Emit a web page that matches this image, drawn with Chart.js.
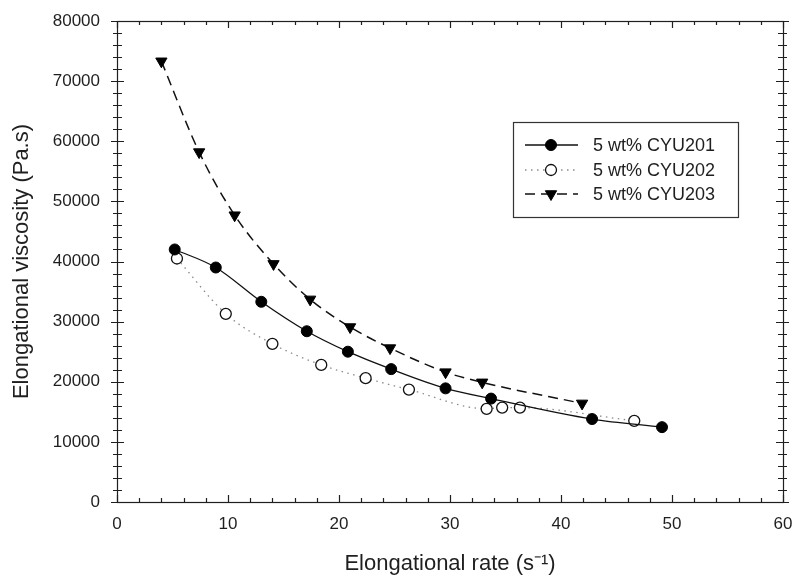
<!DOCTYPE html>
<html>
<head>
<meta charset="utf-8">
<script src="https://cdn.jsdelivr.net/npm/chart.js@4.4.1/dist/chart.umd.min.js"></script>
<style>
  html, body { margin: 0; padding: 0; background: #fff; }
  #wrap { width: 798px; height: 582px; }
</style>
</head>
<body>
<div id="wrap"><canvas id="myChart" width="798" height="582"></canvas></div>
<script>
// values
const rate201 = [5.2, 8.9, 13.0, 17.1, 20.8, 24.7, 29.6, 33.7, 42.8, 49.1]
const visc201 = [42000, 39000, 33300, 28400, 25000, 22100, 18900, 17200, 13800, 12450]
const rate202 = [5.4, 9.8, 14.0, 18.4, 22.4, 26.3, 33.3, 34.7, 36.3, 46.6]
const visc202 = [40500, 31300, 26300, 22800, 20600, 18700, 15500, 15700, 15700, 13500]
const rate203 = [4.0, 7.4, 10.6, 14.1, 17.4, 21.0, 24.6, 29.6, 32.9, 41.9]
const visc203 = [73300, 58200, 47700, 39600, 33700, 29100, 25600, 21600, 19900, 16400]
const seriesNames = ['5 wt% CYU201', '5 wt% CYU202', '5 wt% CYU203']
const xTicks = [0, 10, 20, 30, 40, 50, 60]
const yTicks = [0, 10000, 20000, 30000, 40000, 50000, 60000, 70000, 80000]

const toPoints = (xs, ys) => xs.map((x, i) => ({ x: x, y: ys[i] }))
const FONT = '"Liberation Sans", Arial, sans-serif'
const INK = '#1f1f1f'

// box round the plot plus the small tick marks on all four sides
const frame = {
  id: 'frame',
  afterDraw(chart) {
    const ctx = chart.ctx
    const a = chart.chartArea
    const xs = chart.scales.x
    const ys = chart.scales.y
    ctx.save()
    ctx.strokeStyle = INK
    ctx.lineWidth = 1.2
    ctx.strokeRect(a.left + 0.5, a.top + 0.5, a.right - a.left, a.bottom - a.top)
    ctx.beginPath()
    for (let v = 0; v <= 60; v += 2) {
      const px = Math.round(xs.getPixelForValue(v)) + 0.5
      const len = v % 10 === 0 ? 7 : 4
      ctx.moveTo(px, a.bottom); ctx.lineTo(px, a.bottom - len)
      ctx.moveTo(px, a.top); ctx.lineTo(px, a.top + len)
    }
    for (let v = 0; v <= 80000; v += 2000) {
      const py = Math.round(ys.getPixelForValue(v)) + 0.5
      const out = v % 10000 === 0 ? 6 : 4
      const inn = v % 10000 === 0 ? 7 : 5
      ctx.moveTo(a.left - out, py); ctx.lineTo(a.left + inn, py)
      ctx.moveTo(a.right - inn, py); ctx.lineTo(a.right + out, py)
    }
    ctx.stroke()
    ctx.restore()
  }
}

// legend box inside the plot, line sample with marker like the original
const boxLegend = {
  id: 'boxLegend',
  afterDraw(chart) {
    const ctx = chart.ctx
    const bx = 513, by = 122, bw = 225, bh = 95
    ctx.save()
    ctx.fillStyle = '#fff'
    ctx.fillRect(bx, by, bw, bh)
    ctx.strokeStyle = '#333'
    ctx.lineWidth = 1.2
    ctx.strokeRect(bx + 0.5, by + 0.5, bw, bh)
    const rows = [145, 170, 194]
    chart.data.datasets.forEach((ds, i) => {
      const y = rows[i]
      ctx.save()
      ctx.strokeStyle = ds.borderColor
      ctx.lineWidth = ds.borderWidth
      ctx.setLineDash(ds.borderDash || [])
      ctx.beginPath()
      ctx.moveTo(525, y); ctx.lineTo(578, y)
      ctx.stroke()
      ctx.setLineDash([])
      ctx.fillStyle = ds.pointBackgroundColor
      ctx.strokeStyle = ds.pointBorderColor
      ctx.lineWidth = ds.pointBorderWidth
      Chart.helpers.drawPoint(ctx, {
        pointStyle: ds.pointStyle, radius: ds.pointRadius,
        rotation: ds.pointRotation || 0, borderWidth: ds.pointBorderWidth
      }, 551, y)
      ctx.restore()
      ctx.fillStyle = INK
      ctx.font = '18px ' + FONT
      ctx.textBaseline = 'middle'
      ctx.fillText(seriesNames[i], 593, y + 1)
    })
    ctx.restore()
  }
}

window.onload = () => {
  const ctx = document.getElementById('myChart')
  new Chart(ctx, {
    type: 'scatter',
    data: {
      datasets: [
        {
          label: seriesNames[0],
          data: toPoints(rate201, visc201),
          showLine: true,
          borderColor: '#111',
          borderWidth: 1.3,
          cubicInterpolationMode: 'monotone',
          pointStyle: 'circle',
          pointRadius: 5.5,
          pointBackgroundColor: '#000',
          pointBorderColor: '#000',
          pointBorderWidth: 1
        },
        {
          label: seriesNames[1],
          data: toPoints(rate202, visc202),
          showLine: true,
          borderColor: '#8a8a8a',
          borderWidth: 1.3,
          borderDash: [1.5, 4.5],
          cubicInterpolationMode: 'monotone',
          pointStyle: 'circle',
          pointRadius: 5.5,
          pointBackgroundColor: '#fff',
          pointBorderColor: '#111',
          pointBorderWidth: 1.3
        },
        {
          label: seriesNames[2],
          data: toPoints(rate203, visc203),
          showLine: true,
          borderColor: '#111',
          borderWidth: 1.5,
          borderDash: [10, 6],
          cubicInterpolationMode: 'monotone',
          pointStyle: 'triangle',
          pointRotation: 180,
          pointRadius: 6.5,
          pointBackgroundColor: '#000',
          pointBorderColor: '#000',
          pointBorderWidth: 1
        }
      ]
    },
    options: {
      responsive: false,
      animation: false,
      layout: { padding: { top: 21, right: 15, left: 0, bottom: 0 } },
      plugins: {
        legend: { display: false },
        tooltip: { enabled: false }
      },
      scales: {
        x: {
          type: 'linear',
          min: 0, max: 60,
          afterBuildTicks: (s) => { s.ticks = xTicks.map(v => ({ value: v })) },
          afterFit: (s) => { s.height = 80; s.paddingLeft = 0; s.paddingRight = 0 },
          grid: { display: false, drawTicks: false },
          border: { display: false },
          ticks: {
            color: INK, padding: 12, font: { family: FONT, size: 17 },
            callback: (v) => String(v)
          },
          title: {
            display: true, text: 'Elongational rate (s\u207B\u00B9)', color: INK,
            padding: { top: 0, bottom: 5 }, font: { family: FONT, size: 22 }
          }
        },
        y: {
          type: 'linear',
          min: 0, max: 80000,
          afterBuildTicks: (s) => { s.ticks = yTicks.map(v => ({ value: v })) },
          afterFit: (s) => { s.width = 117; s.paddingTop = 0; s.paddingBottom = 0 },
          grid: { display: false, drawTicks: false },
          border: { display: false },
          ticks: {
            color: INK, padding: 17, font: { family: FONT, size: 17 },
            callback: (v) => String(v)
          },
          title: {
            display: true, text: 'Elongational viscosity (Pa.s)', color: INK,
            padding: { top: 9, bottom: 0 }, font: { family: FONT, size: 22 }
          }
        }
      }
    },
    plugins: [frame, boxLegend]
  })
}
</script>
</body>
</html>
